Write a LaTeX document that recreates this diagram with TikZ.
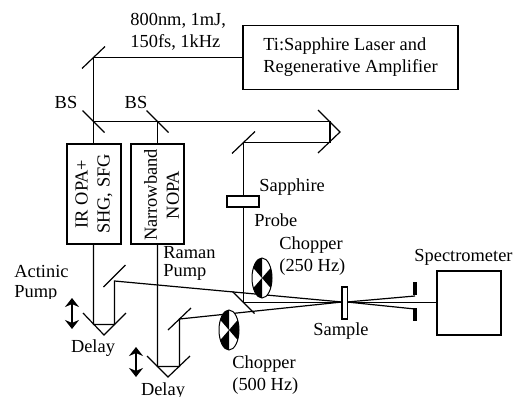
\documentclass[tikz,border=0pt]{standalone}
\usepackage{fontspec}
\setmainfont{Liberation Serif}
\usetikzlibrary{arrows.meta, positioning, shapes.geometric, backgrounds}

\begin{document}
\begin{tikzpicture}[
      x=0.5pt, y=-0.5pt,
      font=\fontsize{9.2}{11}\selectfont,
      beam/.style={line width=0.6pt},
      mirror/.style={line width=0.6pt},
      box/.style={draw, fill=white, line width=0.6pt, align=center, inner sep=0pt},
      lbl/.style={align=left, anchor=west, inner sep=0pt},
      wheel/.style={draw, fill=white, ellipse, line width=0.5pt, minimum width=10pt, minimum height=20pt, inner sep=0pt},
      slit/.style={fill=black, minimum width=1.6pt, minimum height=6.8pt, inner sep=0pt},
      stagearr/.style={{Stealth[length=4.5pt, width=7pt]}-{Stealth[length=4.5pt, width=7pt]}, line width=1pt}
    ]
    \useasboundingbox (0,0) rectangle (513,396);

    % boxes
    \node[box, align=left, minimum width=107.5pt, minimum height=32pt] (laser) at (350.5,57.5) {Ti:Sapphire Laser and\\Regenerative Amplifier};
    \node[box, rotate=90, minimum width=50pt, minimum height=27pt] (irbox) at (94,194) {IR OPA+\\SHG, SFG};
    \node[box, rotate=90, minimum width=50pt, minimum height=26.5pt] (nopa) at (157.5,194) {};
    \node[rotate=90, align=center, inner sep=0pt] (lblnopa) at (161.5,195) {Narrowband\\NOPA};
    \node[box, minimum width=16pt, minimum height=5.5pt] (sapphire) at (243,201.5) {};
    \node[box, minimum width=2.6pt, minimum height=16pt] (sample) at (344.5,303) {};
    \node[box, minimum width=32pt, minimum height=32pt] (spec) at (469,303) {};
    \node[slit] (slitA) at (415,288.5) {};
    \node[slit] (slitB) at (415,314.5) {};

    % beam points
    \coordinate (turn) at (93.5,57.5);
    \coordinate (bsA) at (93.5,121.5);
    \coordinate (bsB) at (157.5,121.5);
    \coordinate (probeM) at (243.5,142.5);
    \coordinate (foldM) at (243.5,302.5);
    \coordinate (actM) at (114.5,281);
    \coordinate (ramM) at (179.5,319);
    \coordinate (retroP) at (330,121.5);
    \coordinate (retroQ) at (330,142.5);
    \coordinate (retroR) at (93.5,324.5);
    \coordinate (retroS) at (114.5,324.5);
    \coordinate (retroT) at (157.5,366.5);
    \coordinate (retroU) at (179.5,366.5);
    \coordinate (hit) at (342,302);
    \coordinate (out) at (347,302);
    \coordinate (slitAe) at (415,296);
    \coordinate (slitBe) at (415,309);

    % beams
    \begin{scope}[on background layer]
      \draw[beam] (laser.west |- turn) -- (turn) -- (bsA) -- (bsA |- irbox.east);
      \draw[beam] (bsA) -- (retroP) -- (retroQ) -- (probeM) -- (foldM) -- (spec.west |- foldM);
      \draw[beam] (bsB) -- (bsB |- nopa.east);
      \draw[beam] (bsA |- irbox.west) -- (retroR) -- (retroS) -- (actM) -- (hit);
      \draw[beam] (bsB |- nopa.west) -- (retroT) -- (retroU) -- (ramM) -- (hit);
      \draw[beam] (out) -- (slitAe);
      \draw[beam] (out) -- (slitBe);
    \end{scope}

    % mirrors
    \foreach \m in {turn,probeM,ramM} {\draw[mirror] ([shift={(-11.5,11)}]\m) -- ([shift={(11.5,-11)}]\m);}
    \draw[mirror] ([shift={(-11,6)}]actM) -- ([shift={(11,-16)}]actM);
    \foreach \m in {bsA,bsB,foldM} {\draw[mirror] ([shift={(-11,-11)}]\m) -- ([shift={(11,11)}]\m);}

    % retroreflectors
    \draw[mirror] (318,110) -- (340,132) -- (318,153);
    \draw[mirror] (83,313) -- (104,335) -- (126,313);
    \draw[mirror] (147,356) -- (168,377) -- (190,356);

    % choppers
    \node[wheel] (chopA) at (262,278) {};
    \node[wheel] (chopB) at (229,330) {};
    \foreach \c in {chopA,chopB} {
      \foreach \a in {-150,-270,-30} {
        \fill (\c.center) -- ++(\a:10 and 20) arc[start angle=\a, end angle=\a+60, x radius=10, y radius=20] -- cycle;
      }
    }

    % delay stages
    \draw[stagearr] (72,298) -- (72,329);
    \draw[stagearr] (136,347) -- (136,377);

    % labels
    \node[lbl] (lblbeam) at (130,32) {800nm, 1mJ,\\150fs, 1kHz};
    \node[inner sep=0pt] (lblbsA) at (66,102) {BS};
    \node[inner sep=0pt] (lblbsB) at (136,102) {BS};
    \node[lbl] (lblsapphire) at (259,187) {Sapphire};
    \node[lbl] (lblprobe) at (254,220) {Probe};
    \node[lbl] (lblchopA) at (279,256) {Chopper\\(250 Hz)};
    \node[lbl] (lblchopB) at (232,375) {Chopper\\(500 Hz)};
    \node[lbl] (lblraman) at (163,263) {Raman\\[-2pt]Pump};
    \begin{scope}
      \clip (0,250) rectangle (100,298);
      \node[lbl] (lblactinic) at (14,283) {Actinic\\[-1pt]Pump};
    \end{scope}
    \node[inner sep=0pt] (lbldelayA) at (93,348) {Delay};
    \node[inner sep=0pt] (lbldelayB) at (163,391) {Delay};
    \node[inner sep=0pt] (lblsample) at (341,331) {Sample};
    \node[inner sep=0pt] (lblspec) at (463.5,257) {Spectrometer};
  \end{tikzpicture}
\end{document}
